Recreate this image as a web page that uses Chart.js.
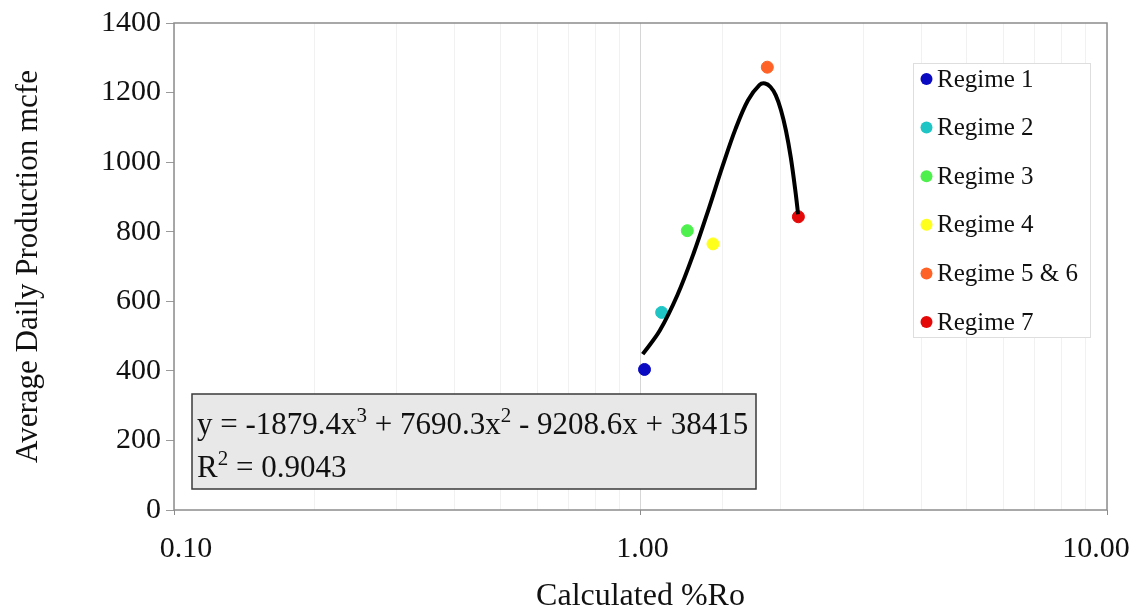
<!DOCTYPE html>
<html>
<head>
<meta charset="utf-8">
<script src="https://cdn.jsdelivr.net/npm/chart.js@4.4.0/dist/chart.umd.min.js"></script>
<style>
  body { margin: 0; background: #fff; }
  #wrap { width: 1139px; height: 613px; }
</style>
</head>
<body>
<div id="wrap"><canvas id="roChart" width="1139" height="613"></canvas></div>
<script>
// Regime averages: calculated %Ro vs average daily production
const regimeLabels = ['Regime 1', 'Regime 2', 'Regime 3', 'Regime 4', 'Regime 5 & 6', 'Regime 7'];
const regimeRo = [1.02, 1.11, 1.26, 1.43, 1.87, 2.18];
const regimeProduction = [404, 568, 803, 765, 1273, 843];
const regimeColors = ['#0a0ac2', '#1fc4c4', '#4ef04e', '#ffff1c', '#ff6226', '#e40808'];

// Poly (order 3) trendline, sampled along its drawn extent
const trendRo = [1.011, 1.1, 1.2, 1.3, 1.4, 1.5, 1.6, 1.7, 1.8, 1.85, 1.9, 1.95, 2.0, 2.05, 2.1, 2.15, 2.177];
const trendProduction = [448, 516, 618, 738, 865, 989, 1097, 1178, 1222, 1226, 1216, 1192, 1150, 1091, 1013, 913, 850];

const xTickValues = [0.1, 1, 10];
const xTickNudge = [12, 2, -11]; // Excel pulls the end labels inwards
const yTicks = [0, 200, 400, 600, 800, 1000, 1200, 1400];

const fitLines = [
    [['y = -1879.4x', false], ['3', true], [' + 7690.3x', false], ['2', true], [' - 9208.6x + 38415', false]],
    [['R', false], ['2', true], [' = 0.9043', false]]
];

const FONT = "'Liberation Serif', 'Times New Roman', serif";

function isDecade(v) {
    const l = Math.log10(v);
    return Math.abs(l - Math.round(l)) < 1e-9;
}

// plot frame, x labels, legend and the equation box
const overlayPlugin = {
    id: 'overlay',
    beforeDatasetsDraw(chart) {
        const { ctx, chartArea: a } = chart;
        ctx.save();
        ctx.strokeStyle = '#8c8c8c';
        ctx.lineWidth = 1.5;
        ctx.strokeRect(a.left, a.top, a.right - a.left, a.bottom - a.top);

        const xs = chart.scales.x;
        ctx.fillStyle = '#111';
        ctx.font = '30px ' + FONT;
        ctx.textAlign = 'center';
        ctx.textBaseline = 'alphabetic';
        xTickValues.forEach((v, i) => {
            ctx.fillText(v.toFixed(2), xs.getPixelForValue(v) + xTickNudge[i], 557);
        });
        ctx.restore();
    },
    afterDatasetsDraw(chart) {
        const ctx = chart.ctx;
        ctx.save();

        // legend
        ctx.fillStyle = '#fff';
        ctx.fillRect(913, 63, 177, 274);
        ctx.strokeStyle = '#dedede';
        ctx.lineWidth = 1;
        ctx.strokeRect(913.5, 63.5, 177, 274);
        ctx.font = '25px ' + FONT;
        ctx.textBaseline = 'middle';
        ctx.textAlign = 'left';
        regimeLabels.forEach((lab, i) => {
            const y = 79 + i * 48.6;
            ctx.beginPath();
            ctx.arc(926.5, y, 6, 0, Math.PI * 2);
            ctx.fillStyle = regimeColors[i];
            ctx.fill();
            ctx.fillStyle = '#111';
            ctx.fillText(lab, 937, y + 1);
        });

        // trendline equation
        ctx.fillStyle = '#e8e8e8';
        ctx.fillRect(192, 394, 564, 95);
        ctx.strokeStyle = '#3a3a3a';
        ctx.lineWidth = 1.5;
        ctx.strokeRect(192, 394, 564, 95);
        ctx.fillStyle = '#111';
        ctx.textBaseline = 'alphabetic';
        fitLines.forEach((parts, li) => {
            let x = 197;
            const base = 434 + li * 43;
            parts.forEach(([txt, sup]) => {
                ctx.font = (sup ? '21px ' : '31px ') + FONT;
                ctx.fillText(txt, x, sup ? base - 12 : base);
                x += ctx.measureText(txt).width;
            });
        });
        ctx.restore();
    }
};

const datasets = regimeLabels.map((lab, i) => ({
    type: 'scatter',
    label: lab,
    data: [{ x: regimeRo[i], y: regimeProduction[i] }],
    backgroundColor: regimeColors[i],
    borderColor: regimeColors[i],
    pointRadius: 6,
    order: 1
}));

datasets.push({
    type: 'line',
    label: 'Poly. (trend)',
    data: trendRo.map((x, i) => ({ x: x, y: trendProduction[i] })),
    borderColor: '#000',
    borderWidth: 4,
    pointRadius: 0,
    fill: false,
    tension: 0.35,
    order: 0
});

const chart = new Chart(document.getElementById('roChart'), {
    data: { datasets: datasets },
    plugins: [overlayPlugin],
    options: {
        responsive: false,
        animation: false,
        layout: { padding: { top: 17, right: 32, left: 0, bottom: 0 } },
        plugins: {
            legend: { display: false },
            tooltip: { enabled: false }
        },
        scales: {
            x: {
                type: 'logarithmic',
                min: 0.1,
                max: 10,
                afterFit(scale) { scale.height = 103; },
                border: { display: false },
                grid: {
                    color: (c) => (c.tick && c.tick.value === 1) ? '#d6d6d6' : '#f1f1f1',
                    tickColor: (c) => (c.tick && isDecade(c.tick.value)) ? '#8c8c8c' : 'rgba(0,0,0,0)',
                    tickLength: 5
                },
                ticks: {
                    autoSkip: false,
                    maxRotation: 0,
                    font: { family: FONT, size: 30 },
                    callback: () => ''
                },
                title: {
                    display: true,
                    text: 'Calculated %Ro',
                    color: '#111',
                    font: { family: FONT, size: 32, lineHeight: 1.0 },
                    padding: { top: 0, bottom: 0 }
                }
            },
            y: {
                min: 0,
                max: 1400,
                afterFit(scale) { scale.width = 174; },
                afterBuildTicks(scale) { scale.ticks = yTicks.map((v) => ({ value: v })); },
                border: { display: false },
                grid: {
                    drawOnChartArea: false,
                    tickLength: 8,
                    tickColor: '#9a9a9a'
                },
                ticks: {
                    padding: 5,
                    color: '#111',
                    font: { family: FONT, size: 30 },
                    callback: (v) => String(v)
                },
                title: {
                    display: true,
                    text: 'Average Daily Production mcfe',
                    color: '#111',
                    font: { family: FONT, size: 31 },
                    padding: { top: 10, bottom: 0 }
                }
            }
        }
    }
});
</script>
</body>
</html>
